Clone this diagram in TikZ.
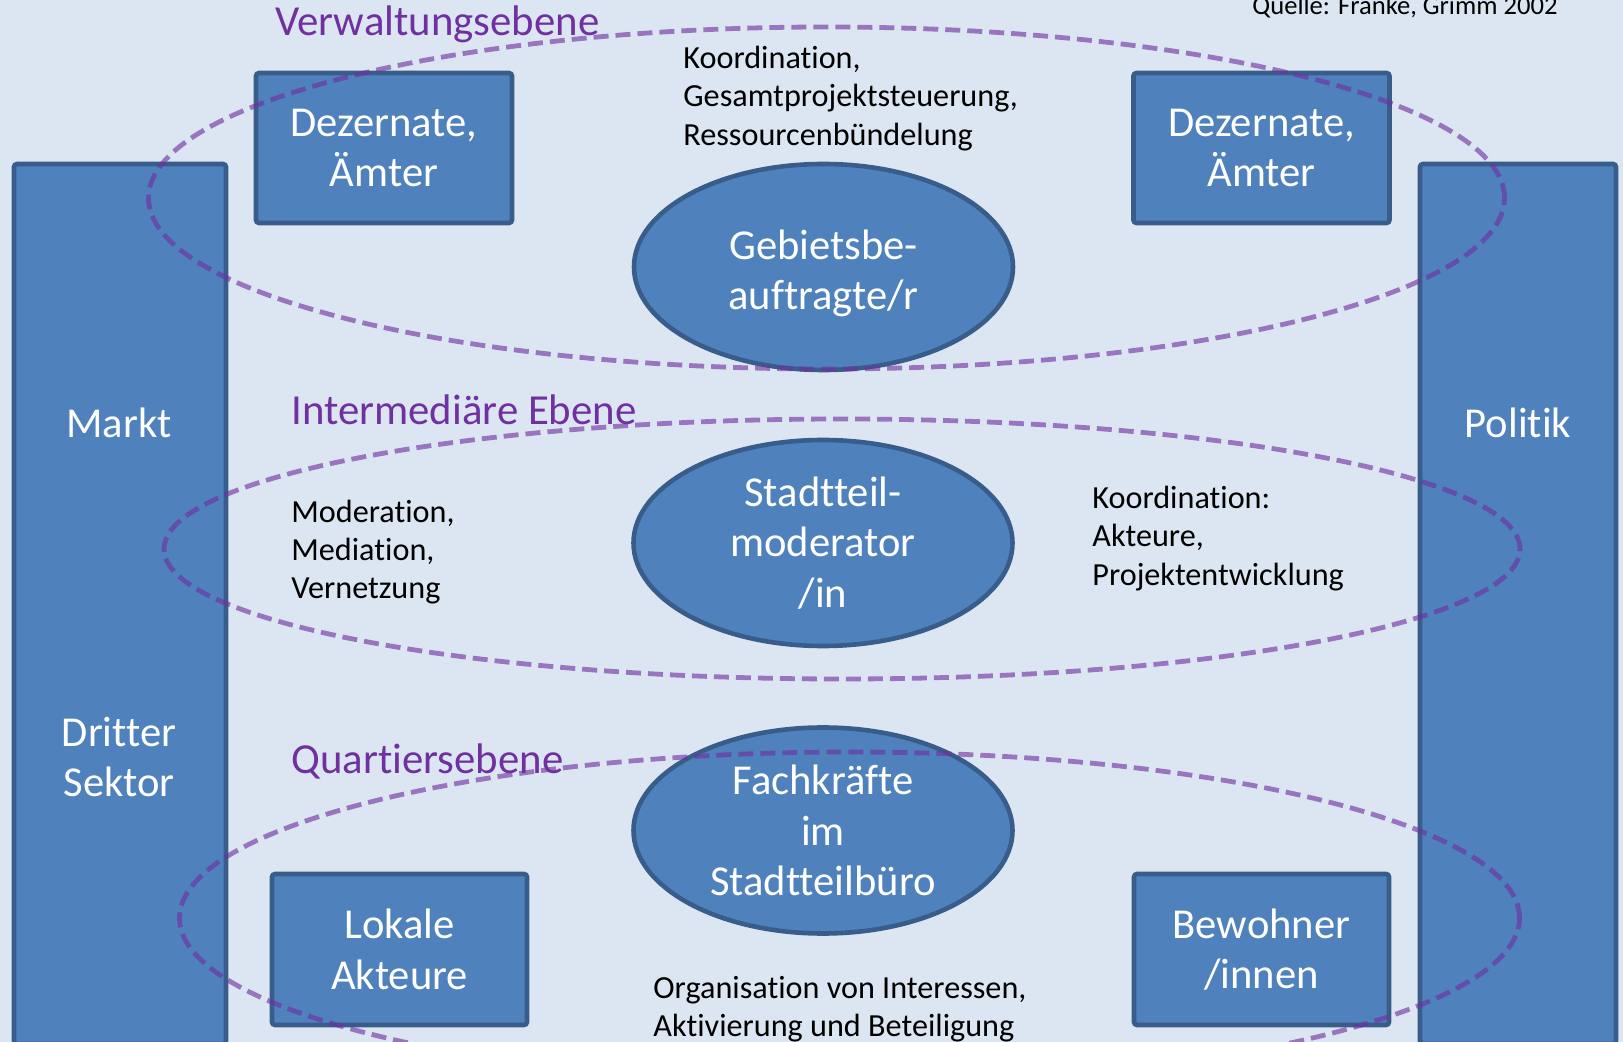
\documentclass[tikz,border=0pt]{standalone}
\usepackage{fontspec}
\setmainfont[Ligatures=NoCommon]{Carlito}
\usepackage{xcolor}
\usepackage{tikz}
\usetikzlibrary{shapes.geometric}
\definecolor{quartbg}{HTML}{DCE6F2}
\definecolor{unitfill}{HTML}{4F81BD}
\definecolor{unitedge}{HTML}{385D8A}
\definecolor{levelpurple}{HTML}{7030A0}
\tikzset{
unit/.style={
	rectangle,
	rounded corners=1.5pt,
	fill=unitfill,
	draw=unitedge,
	line width=2.3pt,
	text=white,
	align=center,
	inner sep=0pt,
	font=\fontsize{21.3}{25.3}\selectfont
},
role/.style={
	ellipse,
	fill=unitfill,
	draw=unitedge,
	line width=2.3pt,
	text=white,
	align=center,
	inner sep=0pt,
	minimum width=189.5pt,
	minimum height=103pt,
	font=\fontsize{21.3}{25.3}\selectfont
},
sidetext/.style={text=white, align=center, inner sep=0pt, font=\fontsize{21.3}{25.3}\selectfont},
note/.style={anchor=west, align=left, inner sep=0pt, font=\fontsize{16.1}{19.2}\selectfont},
levellabel/.style={anchor=base west, inner sep=0pt, text=levelpurple, font=\fontsize{21.4}{25}\selectfont},
levelring/.style={draw=levelpurple, draw opacity=0.62, line width=2.4pt, dash pattern=on 7.5pt off 3.5pt}
}

\begin{document}
\begin{tikzpicture}[x=0.5pt,y=-0.5pt]
% canvas in reference pixels (origin top left)
\useasboundingbox[fill=quartbg] (0,0) rectangle (1623,1042);

% ── Side columns ───────────────────────────────────────────────
\node[unit,minimum width=106pt,minimum height=440pt] (markt) at (120,604) {};
\node[unit,minimum width=98pt,minimum height=440pt] (politik) at (1518,604) {};
\node[sidetext] (markttext) at (119,423) {Markt};
\node[sidetext] (dritter) at (119,757) {Dritter\\Sektor};
\node[sidetext] (politiktext) at (1518,423) {Politik};

% ── Verwaltungsebene ───────────────────────────────────────────
\node[unit,minimum width=128pt,minimum height=75pt] (dezL) at (384,148) {Dezernate,\\Ämter};
\node[unit,minimum width=128pt,minimum height=75pt] (dezR) at (1261.5,148) {Dezernate,\\Ämter};
\node[role] (gebiet) at (823.5,267) {\rule{0pt}{21pt}Gebietsbe-\\auftragte/r};
\node[note] (koord) at (683,98.5) {Koordination,\\Gesamtprojektsteuerung,\\Ressourcenbündelung};

% ── Intermediäre Ebene ─────────────────────────────────────────
\node[role] (moderator) at (823,543) {Stadtteil-\\moderator\\/in};
\node[note] (moderation) at (291,552) {Moderation,\\Mediation,\\Vernetzung};
\node[note] (akteure) at (1092,538.5) {Koordination:\\Akteure,\\Projektentwicklung};

% ── Quartiersebene ─────────────────────────────────────────────
\node[role] (fachkraefte) at (823,830.5) {Fachkräfte\\im\\Stadtteilbüro};
\node[unit,minimum width=127.5pt,minimum height=75.5pt] (lokale) at (399.5,949.5) {Lokale\\Akteure};
\node[unit,minimum width=127.5pt,minimum height=75.5pt] (bewohner) at (1261.5,949.5) {Bewohner\\/innen};
\node[note] (beteiligung) at (653,1009) {Organisation von Interessen,\\Aktivierung und Beteiligung};

% ── Level rings and labels ─────────────────────────────────────
\draw[levelring] (826.5,198) ellipse [x radius=339pt, y radius=85.5pt];
\draw[levelring] (842,549) ellipse [x radius=339pt, y radius=65pt];
\draw[levelring] (849.5,918) ellipse [x radius=335pt, y radius=83pt];
\node[levellabel] (verwaltung) at (275,36) {Verwaltungsebene};
\node[levellabel] (intermediaer) at (291,425) {Intermediäre Ebene};
\node[levellabel] (quartier) at (291,773) {Quartiersebene};

\node[anchor=base west,inner sep=0pt,font=\fontsize{13.3}{15}\selectfont] (quelle) at (1252,15) {Quelle: Franke, Grimm 2002};
\end{tikzpicture}
\end{document}
